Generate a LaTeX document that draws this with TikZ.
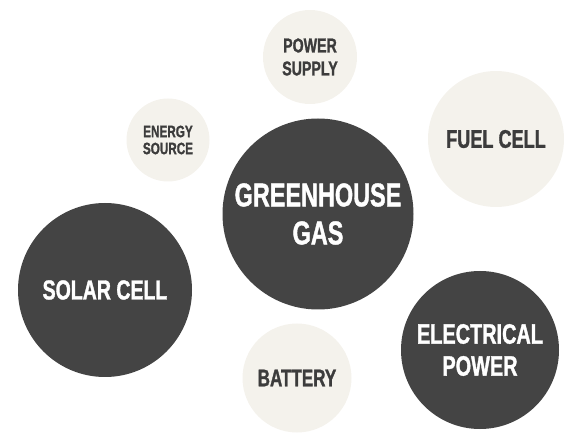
\documentclass[tikz,border=0pt]{standalone}
\usepackage{fontspec}
\newfontfamily\condfont[FakeStretch=0.71, FakeBold=1.2]{Liberation Sans Bold}
\usepackage{tikz}

\definecolor{bubbledark}{HTML}{444444}
\definecolor{bubblelight}{HTML}{F4F2EC}
\definecolor{labelgray}{HTML}{3C3C3C}

\begin{document}
\begin{tikzpicture}[
  x=1pt, y=-1pt,
  bubble/.style={circle, inner sep=0pt, align=center},
  dark/.style={bubble, fill=bubbledark, text=white},
  light/.style={bubble, fill=bubblelight, text=labelgray},
  lbl/.style 2 args={font={\condfont\fontsize{#1}{#2}\selectfont}}
]
  \useasboundingbox (0,0) rectangle (574,441);
  % small light bubbles
  \node[light, minimum size=94pt, lbl={20}{23}] (supply) at (310,57) {POWER\\SUPPLY};
  \node[light, minimum size=83pt, lbl={16.5}{17}] (source) at (168,140) {ENERGY\\SOURCE};
  \node[light, minimum size=136pt, lbl={25.5}{28}] (fuel) at (496,139) {FUEL CELL};
  \node[light, minimum size=109pt, lbl={24}{28}] (battery) at (297,378) {BATTERY};
  % large dark bubbles
  \node[dark, minimum size=191pt, lbl={33}{38}] (ghg) at (318,214) {GREENHOUSE\\GAS};
  \node[dark, minimum size=174pt, lbl={27.5}{30}] (solar) at (105,290) {SOLAR CELL};
  \node[dark, minimum size=158pt, lbl={28}{32}] (elec) at (480,350) {ELECTRICAL\\POWER};
\end{tikzpicture}
\end{document}
